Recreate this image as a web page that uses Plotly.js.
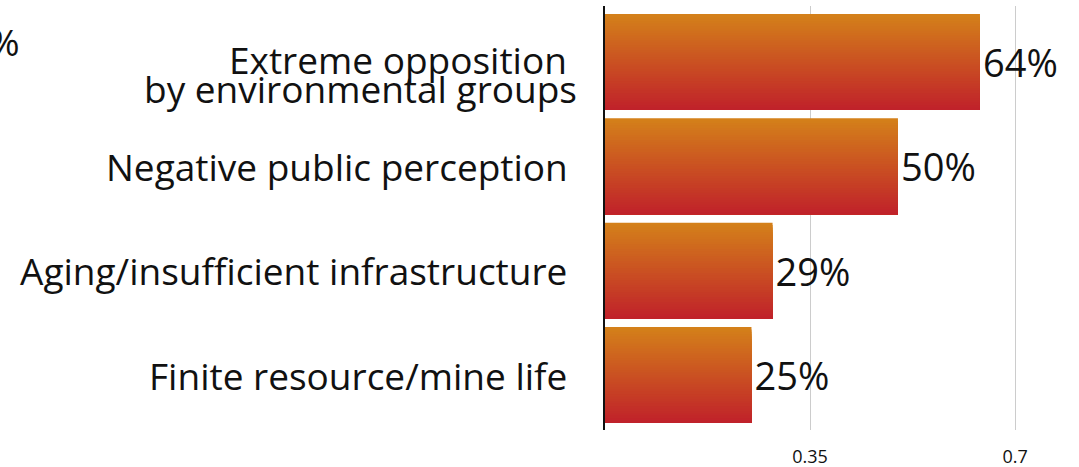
<!DOCTYPE html>
<html><head><meta charset="utf-8">
<script src="https://cdn.plot.ly/plotly-3.0.1.min.js"></script>
<style>html,body{margin:0;padding:0;background:#fff;}#chart{width:1079px;height:467px;}</style>
</head><body><div id="chart"></div>
<script>
const categories = [
  "Extreme opposition\u00a0<br>by environmental groups",
  "Negative public perception\u00a0",
  "Aging/insufficient infrastructure\u00a0",
  "Finite resource/mine life\u00a0"
];
const values = [0.64, 0.50, 0.286, 0.25];
const tickValues = [0.35, 0.7];
const tickLabels = ["0.35", "0.7"];
const cornerText = "%";

const FONT = "'Open Sans', Lato, sans-serif";
const topColor = [212, 128, 26];
const bottomColor = [192, 34, 42];
const N = 40;
const barWidth = 0.92;
const traces = [];
for (let i = 0; i < N; i++) {
  const t = i / (N - 1);
  const c = topColor.map((a, k) => Math.round(a + (bottomColor[k] - a) * t));
  traces.push({
    type: 'bar', orientation: 'h',
    y: categories, x: values,
    width: barWidth - barWidth * i / N,
    offset: -barWidth / 2 + barWidth * i / N,
    marker: {color: `rgb(${c[0]},${c[1]},${c[2]})`, line: {width: 0}},
    hoverinfo: 'skip', showlegend: false
  });
}
traces.push({
  type: 'bar', orientation: 'h',
  y: categories, x: values,
  width: barWidth, offset: -barWidth / 2,
  marker: {color: 'rgba(0,0,0,0)', line: {width: 0}},
  texttemplate: '%{x:.0%}', textposition: 'outside',
  textfont: {family: FONT, size: 38, color: '#111'},
  constraintext: 'none', cliponaxis: false,
  hoverinfo: 'skip', showlegend: false
});

const plotW = 1079 - 605 - 17;
// category labels drawn as annotations anchored to the y axis categories
const annotations = [];
categories.forEach(cat => {
  const lines = cat.split('<br>');
  lines.forEach((ln, k) => {
    annotations.push({
      text: ln, xref: 'paper', yref: 'y', x: -26 / plotW, y: cat,
      xanchor: 'right', yanchor: 'middle', yshift: -k * 29 + (lines.length > 1 ? 3 : 0),
      showarrow: false, font: {family: FONT, size: 37, color: '#111'}
    });
  });
});
annotations.push({
  text: cornerText, xref: 'paper', yref: 'paper',
  x: (22 - 605) / plotW, xanchor: 'right',
  y: 1 - (42 - 6) / 424, yanchor: 'middle',
  showarrow: false, font: {family: FONT, size: 37, color: '#111'}
});

const layout = {
  width: 1079, height: 467,
  margin: {l: 605, r: 17, t: 6, b: 37, pad: 0},
  paper_bgcolor: '#fff', plot_bgcolor: '#fff',
  barmode: 'overlay',
  font: {family: FONT, color: '#111'},
  hovermode: false,
  xaxis: {
    range: [0, 0.78], tickvals: tickValues, ticktext: tickLabels,
    showgrid: true, gridcolor: '#cccccc', gridwidth: 1,
    zeroline: false, showline: false, ticks: '',
    tickfont: {family: FONT, size: 18, color: '#111'},
    ticklabelstandoff: 14
  },
  yaxis: {
    type: 'category', categoryorder: 'array', categoryarray: categories,
    range: [3.527, -0.537],
    showline: true, linecolor: '#111', linewidth: 2,
    showgrid: false, zeroline: false, ticks: '', showticklabels: false
  },
  annotations: annotations
};
Plotly.newPlot('chart', traces, layout, {displayModeBar: false, staticPlot: true});
</script></body></html>
